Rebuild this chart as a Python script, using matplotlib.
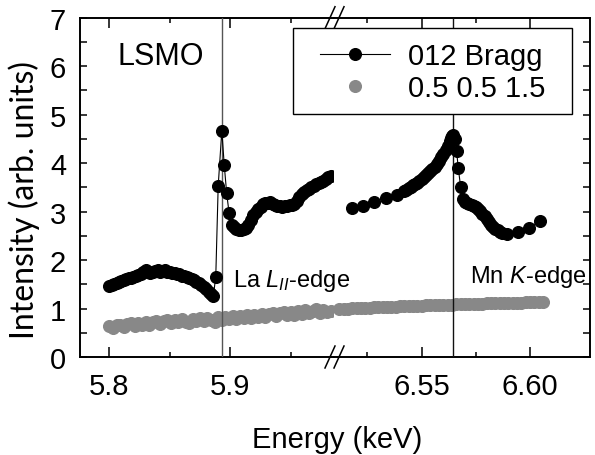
import matplotlib
matplotlib.use("Agg")
import matplotlib.pyplot as plt
from matplotlib.lines import Line2D
from matplotlib.patches import Rectangle

plt.rcParams['font.family'] = ['Liberation Sans', 'DejaVu Sans']
plt.rcParams['mathtext.fontset'] = 'custom'
plt.rcParams['mathtext.rm'] = 'Liberation Sans'
plt.rcParams['mathtext.it'] = 'Liberation Sans:italic'

# ---------------- data ----------------
# 012 Bragg, La L_II edge region
bragg_lo_x = [5.800, 5.802, 5.804, 5.806, 5.808, 5.810, 5.812, 5.814, 5.816, 5.818,
              5.820, 5.822, 5.824, 5.826, 5.828, 5.830, 5.832, 5.834, 5.836, 5.838,
              5.840, 5.842, 5.844, 5.846, 5.848, 5.850, 5.852, 5.854, 5.856, 5.858,
              5.860, 5.862, 5.864, 5.866, 5.868, 5.870, 5.872, 5.874, 5.876, 5.878,
              5.880, 5.882, 5.884, 5.886,
              5.888, 5.890, 5.893, 5.895, 5.897, 5.899, 5.901,
              5.903, 5.905, 5.907, 5.909, 5.911, 5.913, 5.915, 5.917, 5.919, 5.921,
              5.923, 5.925, 5.927, 5.929, 5.931, 5.933, 5.935, 5.937, 5.939, 5.941,
              5.943, 5.945, 5.947, 5.949, 5.951, 5.953, 5.955, 5.957, 5.959, 5.961,
              5.963, 5.965, 5.967, 5.969, 5.971, 5.973, 5.975, 5.977, 5.979, 5.981,
              5.983]
bragg_lo_y = [1.46, 1.48, 1.50, 1.53, 1.55, 1.57, 1.59, 1.61, 1.63, 1.64,
              1.66, 1.68, 1.70, 1.71, 1.75, 1.79, 1.76, 1.73, 1.75, 1.78,
              1.79, 1.75, 1.77, 1.79, 1.75, 1.76, 1.73, 1.74, 1.71, 1.72,
              1.68, 1.67, 1.65, 1.64, 1.61, 1.59, 1.55, 1.52, 1.48, 1.44,
              1.40, 1.35, 1.30, 1.26,
              1.66, 3.53, 4.67, 3.96, 3.38, 2.97, 2.72,
              2.68, 2.65, 2.63, 2.62, 2.64, 2.66, 2.72, 2.82, 2.92, 3.00,
              3.06, 3.10, 3.15, 3.17, 3.18, 3.19, 3.16, 3.13, 3.11, 3.12,
              3.10, 3.12, 3.11, 3.13, 3.14, 3.16, 3.22, 3.30, 3.37, 3.41,
              3.44, 3.47, 3.50, 3.53, 3.56, 3.58, 3.61, 3.64, 3.68, 3.71,
              3.74]

# 012 Bragg, Mn K edge region
bragg_hi_x = [6.5177, 6.5231, 6.5282, 6.5334, 6.5385,
              6.542, 6.543, 6.544, 6.545, 6.546, 6.547, 6.548, 6.549, 6.550, 6.551,
              6.552, 6.553, 6.554, 6.555, 6.556, 6.557, 6.558, 6.559, 6.560, 6.561,
              6.562, 6.563, 6.5635, 6.564, 6.5646, 6.5655,
              6.5661, 6.5669, 6.568, 6.5692,
              6.570, 6.571, 6.572, 6.573, 6.574, 6.575, 6.576, 6.577, 6.578, 6.579,
              6.580, 6.581, 6.582, 6.583, 6.584, 6.585, 6.586, 6.587,
              6.5892, 6.5945, 6.5996, 6.6045]
bragg_hi_y = [3.07, 3.12, 3.20, 3.28, 3.35,
              3.42, 3.45, 3.48, 3.51, 3.54, 3.57, 3.60, 3.64, 3.68, 3.71,
              3.75, 3.79, 3.83, 3.88, 3.93, 3.99, 4.05, 4.12, 4.19, 4.27,
              4.36, 4.45, 4.52, 4.56, 4.58, 4.50,
              4.25, 3.89, 3.50, 3.26,
              3.20, 3.17, 3.15, 3.13, 3.12, 3.10, 3.06, 3.01, 2.96, 2.90,
              2.84, 2.78, 2.73, 2.68, 2.64, 2.61, 2.58, 2.56,
              2.54, 2.58, 2.67, 2.81]

# 0.5 0.5 1.5 reflection
half_lo_x = [5.800, 5.803, 5.806, 5.809, 5.812, 5.815, 5.818, 5.821, 5.824, 5.827,
             5.830, 5.833, 5.836, 5.839, 5.842, 5.845, 5.848, 5.851, 5.854, 5.857,
             5.860, 5.863, 5.866, 5.869, 5.872, 5.875, 5.878, 5.881, 5.884, 5.887,
             5.890, 5.893, 5.896, 5.899, 5.902, 5.905, 5.908, 5.911, 5.914, 5.917,
             5.920, 5.923, 5.926, 5.929, 5.932, 5.935, 5.938, 5.941, 5.944, 5.947,
             5.950, 5.953, 5.956, 5.959, 5.962, 5.965, 5.968, 5.971, 5.974, 5.977,
             5.980, 5.983]
half_lo_y = [0.63, 0.59, 0.65, 0.67, 0.61, 0.68, 0.70, 0.64, 0.71, 0.67,
             0.73, 0.66, 0.72, 0.75, 0.68, 0.74, 0.76, 0.70, 0.77, 0.72,
             0.78, 0.73, 0.71, 0.79, 0.74, 0.80, 0.75, 0.81, 0.76, 0.73,
             0.82, 0.77, 0.83, 0.78, 0.84, 0.79, 0.85, 0.80, 0.86, 0.81,
             0.87, 0.82, 0.89, 0.83, 0.88, 0.91, 0.84, 0.90, 0.93, 0.86,
             0.92, 0.87, 0.94, 0.89, 0.96, 0.90, 0.95, 0.98, 0.91, 0.97,
             0.92, 0.95]
half_hi_x = [6.512, 6.514, 6.516, 6.518, 6.520, 6.522, 6.524, 6.526, 6.528, 6.530,
             6.532, 6.534, 6.536, 6.538, 6.540, 6.542, 6.544, 6.546, 6.548, 6.550,
             6.552, 6.554, 6.556, 6.558, 6.560, 6.562, 6.564, 6.566, 6.568, 6.570,
             6.572, 6.574, 6.576, 6.578, 6.580, 6.582, 6.584, 6.586, 6.588, 6.590,
             6.592, 6.594, 6.596, 6.598, 6.600, 6.602, 6.604, 6.606]
half_hi_y = [0.99, 1.00, 1.00, 1.01, 1.01, 1.02, 1.02, 1.02, 1.03, 1.03,
             1.03, 1.04, 1.04, 1.04, 1.05, 1.05, 1.05, 1.06, 1.06, 1.06,
             1.07, 1.07, 1.07, 1.08, 1.08, 1.08, 1.08, 1.09, 1.09, 1.09,
             1.10, 1.10, 1.10, 1.10, 1.11, 1.11, 1.11, 1.11, 1.12, 1.12,
             1.12, 1.12, 1.12, 1.13, 1.13, 1.13, 1.13, 1.14]

edge_La = 5.8931
edge_Mn = 6.5643
labels = ['012 Bragg', '0.5 0.5 1.5']

# ---------------- figure ----------------
W, H = 595, 456
fig = plt.figure(figsize=(W / 100, H / 100), dpi=100)

def fx(px):
    return px / W

def fy(py):
    return 1 - py / H

x_left, x_break, x_right = 80, 334, 590
y_top, y_bot = 18.7, 358
ax1 = fig.add_axes([fx(x_left), fy(y_bot), (x_break - x_left) / W, (y_bot - y_top) / H])
ax2 = fig.add_axes([fx(x_break), fy(y_bot), (x_right - x_break) / W, (y_bot - y_top) / H])

gray = '#888888'
ms = 8.4
FS = 21
for ax, bx, by, gx, gy in [(ax1, bragg_lo_x, bragg_lo_y, half_lo_x, half_lo_y),
                           (ax2, bragg_hi_x, bragg_hi_y, half_hi_x, half_hi_y)]:
    ax.plot(gx, gy, 'o', color=gray, mec=gray, ms=ms, zorder=2)
    ax.plot(bx, by, '-o', color='k', lw=0.8, mfc='k', mec='k', ms=ms, zorder=4)
    ax.set_ylim(0, 7)
    for s in ax.spines.values():
        s.set_linewidth(1.4)

ax1.axvline(edge_La, color='#555555', lw=1.0, zorder=3)
ax2.axvline(edge_Mn, color='#111111', lw=1.0, zorder=3)

ax1.set_xlim(5.7758, 5.9857)
ax2.set_xlim(6.5096, 6.6276)

ax1.spines['right'].set_visible(False)
ax2.spines['left'].set_visible(False)

ax1.set_xticks([5.8, 5.9])
ax1.set_xticklabels(['5.8', '5.9'])
ax1.set_xticks([5.85, 5.95], minor=True)
ax2.set_xticks([6.55, 6.60])
ax2.set_xticklabels(['6.55', '6.60'])
ax2.set_xticks([6.525, 6.575], minor=True)

ax1.set_yticks(range(0, 8))
ax1.set_yticks([0.5 + i for i in range(7)], minor=True)
ax2.set_yticks(range(0, 8))
ax2.set_yticks([0.5 + i for i in range(7)], minor=True)

for ax in (ax1, ax2):
    ax.tick_params(axis='x', which='major', direction='in', length=7, width=1.1,
                   top=True, bottom=True, labelsize=FS, pad=11)
    ax.tick_params(axis='x', which='minor', direction='in', length=3.6, width=1.1,
                   top=True, bottom=True)
ax1.tick_params(axis='y', which='both', direction='in', length=5, width=1.1,
                left=True, right=False, labelsize=FS, pad=10)
ax2.tick_params(axis='y', which='both', direction='in', length=5, width=1.1,
                left=False, right=True, labelleft=False, labelright=False)

# break marks
for yb in (y_top, y_bot):
    for c in (330, 339):
        fig.add_artist(Line2D([fx(c - 5), fx(c + 5)], [fy(yb + 11), fy(yb - 11)],
                              transform=fig.transFigure, color='k', lw=1.1))

# texts
fig.text(fx(118), fy(65), 'LSMO', fontsize=22, ha='left', va='baseline')
fig.text(fx(233), fy(287), r'La $L_{II}$-edge', fontsize=17, ha='left', va='baseline')
fig.text(fx(470), fy(283), r'Mn $K$-edge', fontsize=17, ha='left', va='baseline')
fig.text(fx(337), fy(448), 'Energy (keV)', fontsize=FS, ha='center', va='baseline')
fig.text(fx(24), fy(200), 'Intensity (arb. units)', fontsize=23, rotation=90,
         ha='center', va='center', family=['Lato', 'DejaVu Sans'])

# legend: frame drawn as a white box, entries placed inside it
box = Rectangle((fx(293), fy(115)), (572 - 293) / W, (115 - 29) / H,
                transform=fig.transFigure, facecolor='white', edgecolor='k',
                lw=1.0, zorder=5)
fig.add_artist(box)
h1 = Line2D([], [], color='k', lw=0.8, marker='o', ms=ms, mfc='k', mec='k')
h2 = Line2D([], [], color=gray, lw=0, marker='o', ms=ms, mfc=gray, mec=gray)
leg = fig.legend([h1, h2], labels, loc='center left',
                 bbox_to_anchor=(fx(320), fy(73)), bbox_transform=fig.transFigure,
                 fontsize=FS, frameon=False, handlelength=2.41, handletextpad=0.59,
                 borderpad=0, labelspacing=0.12, borderaxespad=0)
leg.set_zorder(10)

fig.savefig('out.png', dpi=100)
